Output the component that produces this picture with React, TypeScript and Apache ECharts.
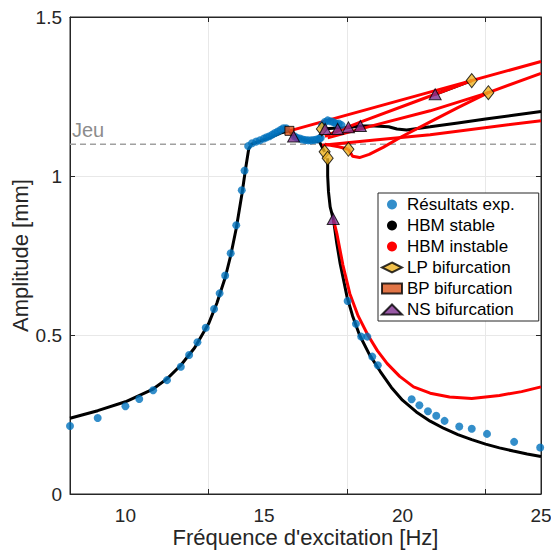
import React, { useEffect, useRef } from "react";
import * as echarts from "echarts";

const xTicks = [10, 15, 20, 25];
const yTicks = [0, 0.5, 1, 1.5];

const expX = [8, 9, 10, 10.5, 11, 11.5, 12, 12.3, 12.6, 12.9, 13.2, 13.4, 13.6, 13.8, 14.0, 14.2, 14.3, 14.43, 14.57, 14.72, 14.85, 15.0, 15.1, 15.2, 15.3, 15.4, 15.5, 15.6, 15.7, 15.8,
  16.1, 16.2, 16.3, 16.4, 16.5, 16.6, 16.7, 16.8, 16.9, 17.0, 17.05,
  17.1, 17.2, 17.3, 17.4, 17.5, 17.6, 17.7, 17.8,
  18.02, 18.32, 18.51, 18.73, 18.91, 19.11, 20.33, 20.61, 20.92, 21.22, 21.52, 22.05, 22.5, 23.05, 24.03, 24.97];
const expY = [0.214, 0.239, 0.276, 0.299, 0.326, 0.358, 0.40, 0.437, 0.477, 0.523, 0.582, 0.631, 0.687, 0.757, 0.845, 0.955, 1.017, 1.094, 1.103, 1.108, 1.112, 1.118, 1.122, 1.125, 1.13, 1.135, 1.14, 1.145, 1.15, 1.15,
  1.125, 1.12, 1.118, 1.115, 1.113, 1.112, 1.112, 1.113, 1.115, 1.118, 1.12,
  1.16, 1.17, 1.175, 1.172, 1.17, 1.165, 1.165, 1.16,
  0.607, 0.535, 0.495, 0.495, 0.432, 0.405, 0.298, 0.279, 0.26, 0.246, 0.23, 0.212, 0.205, 0.189, 0.164, 0.146];

const blackLeft = [[8, 0.238], [9, 0.262], [10, 0.29], [11, 0.33], [11.5, 0.362], [12, 0.405], [12.5, 0.46], [13, 0.535], [13.3, 0.6], [13.6, 0.68], [13.8, 0.75], [14.0, 0.835], [14.2, 0.94], [14.35, 1.03], [14.45, 1.085], [14.55, 1.1], [14.8, 1.108], [15.2, 1.12], [15.6, 1.135], [15.92, 1.142]];
const blackMid = [[15.92, 1.142], [16.07, 1.124], [16.6, 1.11], [17.0, 1.108], [17.19, 1.076]];
const blackDesc = [[17.3, 1.056], [17.3, 1.0], [17.33, 0.95], [17.39, 0.903], [17.51, 0.862], [17.63, 0.788], [17.75, 0.725], [18.0, 0.62], [18.2, 0.56], [18.45, 0.5], [18.8, 0.44], [19.2, 0.385], [19.6, 0.335], [20.0, 0.295], [20.5, 0.258], [21.0, 0.229], [21.5, 0.206], [22.0, 0.187], [22.5, 0.171], [23.0, 0.157], [23.5, 0.145], [24.0, 0.135], [24.5, 0.126], [25, 0.118]];
const blackUpper = [[17.09, 1.148], [17.5, 1.15], [18.0, 1.152], [18.48, 1.157], [19.0, 1.157], [19.5, 1.155], [19.8, 1.148], [20.15, 1.145], [21, 1.155], [22, 1.167], [23, 1.179], [24, 1.191], [25, 1.203]];
const blackNS = [[21.18, 1.257], [22.5, 1.30]];

const redLower = [[17.51, 0.862], [17.63, 0.82], [17.85, 0.72], [18.1, 0.63], [18.4, 0.56], [18.75, 0.5], [19.1, 0.45], [19.45, 0.41], [19.9, 0.37], [20.4, 0.337], [21.0, 0.317], [21.7, 0.305], [22.5, 0.30], [23.5, 0.31], [24.3, 0.322], [25, 0.337]];
const redTop = [[15.92, 1.142], [25, 1.36]];
const redA = [[25, 1.323], [23.1, 1.262]];
const redB = [[23.1, 1.262], [21, 1.205], [19, 1.16], [17.3, 1.12]];
const redC = [[22.5, 1.30], [20.5, 1.235], [18.5, 1.17], [17.2, 1.125]];
const redD = [[23.1, 1.262], [22, 1.215], [21, 1.17], [20, 1.125], [19.3, 1.09], [18.8, 1.068], [18.45, 1.058], [18.2, 1.062], [18.05, 1.084]];
const redE = [[18.05, 1.084], [17.7, 1.092], [17.2, 1.1]];
const redF = [[17.1, 1.097], [19, 1.113], [21, 1.13], [25, 1.174]];

const lpPts = [[17.09, 1.148], [17.19, 1.076], [17.3, 1.056], [18.05, 1.084], [22.5, 1.30], [23.1, 1.262]];
const bpPts = [[15.92, 1.142]];
const nsPts = [[16.07, 1.124], [17.21, 1.148], [17.66, 1.148], [18.05, 1.153], [18.48, 1.157], [21.18, 1.257], [17.5, 0.865]];

const jeu = 1.1;

const FONT = "'Liberation Sans', Arial, Helvetica, sans-serif";
const AX = "#262626";

export default function App() {
  const ref = useRef<HTMLDivElement>(null);
  useEffect(() => {
    const chart = echarts.init(ref.current!, null, { renderer: "svg" });
    const lineS = (name: string, data: number[][], color: string, z: number) => ({
      type: "line", name, data, showSymbol: false, symbol: "none", smooth: false,
      lineStyle: { color, width: 3 }, itemStyle: { color }, z, silent: true,
    });
    const series: any[] = [
      lineS("HBM stable", blackLeft, "#000000", 2),
      lineS("HBM stable", blackMid, "#000000", 2),
      lineS("HBM stable", blackDesc, "#000000", 2),
      lineS("HBM stable", blackUpper, "#000000", 2),
      lineS("HBM stable", blackNS, "#000000", 2),
      lineS("HBM instable", redLower, "#ff0000", 3),
      lineS("HBM instable", redTop, "#ff0000", 3),
      lineS("HBM instable", redA, "#ff0000", 3),
      lineS("HBM instable", redB, "#ff0000", 3),
      lineS("HBM instable", redC, "#ff0000", 3),
      lineS("HBM instable", redD, "#ff0000", 3),
      lineS("HBM instable", redE, "#ff0000", 3),
      lineS("HBM instable", redF, "#ff0000", 3),
      {
        type: "line", name: "Jeu", data: [[8, jeu], [25, jeu]], symbol: "none",
        lineStyle: { color: "#a0a0a0", width: 1.5, type: [6, 4] }, z: 1, silent: true,
      },
      {
        type: "scatter", name: "Résultats exp.", data: expX.map((x, i) => [x, expY[i]]),
        symbol: "circle", symbolSize: 8, itemStyle: { color: "#0072BD" }, z: 4,
      },
      {
        type: "scatter", name: "LP bifurcation", data: lpPts, symbol: "diamond", symbolSize: [11, 14],
        itemStyle: { color: "#EDB120", borderColor: "#000", borderWidth: 1 }, z: 6,
      },
      {
        type: "scatter", name: "BP bifurcation", data: bpPts, symbol: "rect", symbolSize: 9,
        itemStyle: { color: "#D95319", borderColor: "#000", borderWidth: 1 }, z: 6,
      },
      {
        type: "scatter", name: "NS bifurcation", data: nsPts, symbol: "triangle", symbolSize: [12, 11],
        itemStyle: { color: "#7E2F8E", borderColor: "#000", borderWidth: 1 }, z: 6,
      },
    ];
    chart.setOption({
      animation: false,
      backgroundColor: "#ffffff",
      textStyle: { fontFamily: FONT },
      grid: {
        left: 70, top: 17, right: 10, bottom: 58, show: true, borderColor: AX, borderWidth: 1,
        backgroundColor: "transparent", containLabel: false, outerBoundsMode: "none",
      },
      xAxis: [
        {
          type: "value", min: 8, max: 25, interval: 5, position: "bottom",
          name: "Fréquence d'excitation [Hz]", nameLocation: "middle", nameGap: 32, nameMoveOverlap: false,
          nameTextStyle: { fontSize: 22, color: AX, fontFamily: FONT },
          axisLine: { show: true, onZero: false, lineStyle: { color: AX } },
          axisTick: { show: true, inside: true, length: 5, lineStyle: { color: AX } },
          axisLabel: { fontSize: 19, color: AX, margin: 12, fontFamily: FONT, customValues: xTicks },
          splitLine: { show: true, lineStyle: { color: "#e8e8e8", width: 1 } },
        },
        {
          type: "value", min: 8, max: 25, interval: 5, position: "top",
          axisLine: { show: true, onZero: false, lineStyle: { color: AX } },
          axisTick: { show: true, inside: true, length: 5, lineStyle: { color: AX } },
          axisLabel: { show: false }, splitLine: { show: false },
        },
      ],
      yAxis: [
        {
          type: "value", min: 0, max: 1.5, interval: 0.5, position: "left",
          name: "Amplitude [mm]", nameLocation: "middle", nameGap: 39, nameMoveOverlap: false,
          nameTextStyle: { fontSize: 22, color: AX, fontFamily: FONT },
          axisLine: { show: true, onZero: false, lineStyle: { color: AX } },
          axisTick: { show: true, inside: true, length: 5, lineStyle: { color: AX } },
          axisLabel: { fontSize: 19, color: AX, margin: 8, fontFamily: FONT, customValues: yTicks, formatter: (v: number) => String(v) },
          splitLine: { show: true, lineStyle: { color: "#e8e8e8", width: 1 } },
        },
        {
          type: "value", min: 0, max: 1.5, interval: 0.5, position: "right",
          axisLine: { show: true, onZero: false, lineStyle: { color: AX } },
          axisTick: { show: true, inside: true, length: 5, lineStyle: { color: AX } },
          axisLabel: { show: false }, splitLine: { show: false },
        },
      ],
      legend: {
        orient: "vertical", left: 378, top: 193,
        data: [
          { name: "Résultats exp.", icon: "circle" },
          { name: "HBM stable", icon: "circle" },
          { name: "HBM instable", icon: "circle" },
          { name: "LP bifurcation", icon: "diamond" },
          { name: "BP bifurcation", icon: "rect" },
          { name: "NS bifurcation", icon: "triangle" },
        ],
        itemWidth: 20, itemHeight: 10, itemGap: 4,
        padding: [3, 24, 3, 3],
        backgroundColor: "#ffffff", borderColor: AX, borderWidth: 1, borderRadius: 0,
        textStyle: { fontSize: 17, color: "#000", fontFamily: FONT, lineHeight: 17 },
        selectedMode: false,
      },
      graphic: [
        { type: "text", left: 72, top: 120, style: { text: "Jeu", fontSize: 20, fill: "#8c8c8c", fontFamily: FONT } },
      ],
      series,
    });
    return () => chart.dispose();
  }, []);
  return <div ref={ref} style={{ position: "fixed", left: 0, top: 0, width: 551, height: 552 }} />;
}
